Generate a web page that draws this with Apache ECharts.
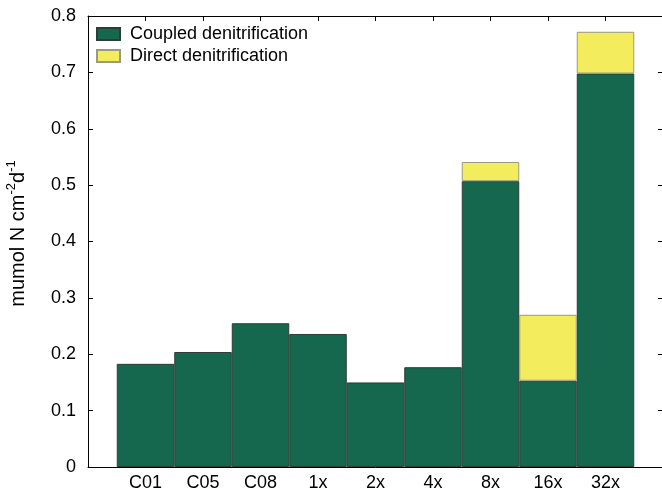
<!DOCTYPE html>
<html>
<head>
<meta charset="utf-8">
<script src="https://cdn.jsdelivr.net/npm/echarts@6/dist/echarts.min.js"></script>
<style>html,body{margin:0;padding:0;background:#fff;}#c{width:662px;height:492px;}</style>
</head>
<body>
<div id="c"></div>
<script>
const categories = ['C01', 'C05', 'C08', '1x', '2x', '4x', '8x', '16x', '32x'];
const coupled = [0.183, 0.204, 0.255, 0.236, 0.150, 0.177, 0.507, 0.153, 0.698];
const direct = [0, 0, 0, 0, 0, 0, 0.034, 0.117, 0.074];
const yTicks = { min: 0, max: 0.8, interval: 0.1 };

const FONT = '"Liberation Sans", Arial, Helvetica, sans-serif';
const xData = [''].concat(categories, ['']);
const pad = arr => ['-'].concat(arr.map(v => v === 0 ? '-' : v), ['-']);

const chart = echarts.init(document.getElementById('c'), null, { renderer: 'canvas' });
const axisLine = { show: true, onZero: false, lineStyle: { color: '#000', width: 1 } };
const tick = { show: true, inside: true, length: 5, lineStyle: { color: '#000', width: 1 } };

chart.setOption({
  animation: false,
  backgroundColor: '#fff',
  grid: { left: 88, top: 16, width: 575, height: 451, containLabel: false, outerBoundsMode: 'none' },
  legend: {
    orient: 'vertical', left: 96, top: 25, padding: 0, itemWidth: 23, itemHeight: 12, itemGap: 4,
    icon: 'rect',
    textStyle: { fontFamily: FONT, fontSize: 18, lineHeight: 18, color: '#000', padding: [0, 0, 0, 5] },
    data: ['Coupled denitrification', 'Direct denitrification']
  },
  xAxis: [
    {
      type: 'category', data: xData, boundaryGap: false, position: 'bottom',
      axisLine: axisLine, axisTick: tick,
      axisLabel: { fontFamily: FONT, fontSize: 18, color: '#000', margin: 7 },
      splitLine: { show: false }
    },
    {
      type: 'category', data: xData, boundaryGap: false, position: 'top',
      axisLine: axisLine, axisTick: tick, axisLabel: { show: false }, splitLine: { show: false }
    }
  ],
  yAxis: [
    {
      type: 'value', min: yTicks.min, max: yTicks.max, interval: yTicks.interval,
      axisLine: axisLine, axisTick: tick,
      axisLabel: { fontFamily: FONT, fontSize: 18, color: '#000', margin: 12 },
      splitLine: { show: false },
      name: 'mumol N cm{sup|-2}d{sup|-1}', nameLocation: 'middle', nameRotate: 90, nameGap: 57,
      nameTextStyle: {
        fontFamily: FONT, fontSize: 20, color: '#000', lineHeight: 26, padding: [0, 0, 0, 16],
        rich: { sup: { fontFamily: FONT, fontSize: 13, color: '#000', verticalAlign: 'top', lineHeight: 13 } }
      }
    },
    {
      type: 'value', min: yTicks.min, max: yTicks.max, interval: yTicks.interval, position: 'right',
      axisLine: axisLine, axisTick: tick, axisLabel: { show: false }, splitLine: { show: false }
    }
  ],
  series: [
    {
      name: 'Coupled denitrification', type: 'bar', stack: 'tot', data: pad(coupled),
      barWidth: '100%', barGap: '-100%',
      itemStyle: { color: '#15674d', borderColor: '#2c3d35', borderWidth: 1 }
    },
    {
      name: 'Direct denitrification', type: 'bar', stack: 'tot', data: pad(direct),
      barWidth: '100%',
      itemStyle: { color: '#f3ec5c', borderColor: '#9a9a80', borderWidth: 1 }
    }
  ]
});
</script>
</body>
</html>
